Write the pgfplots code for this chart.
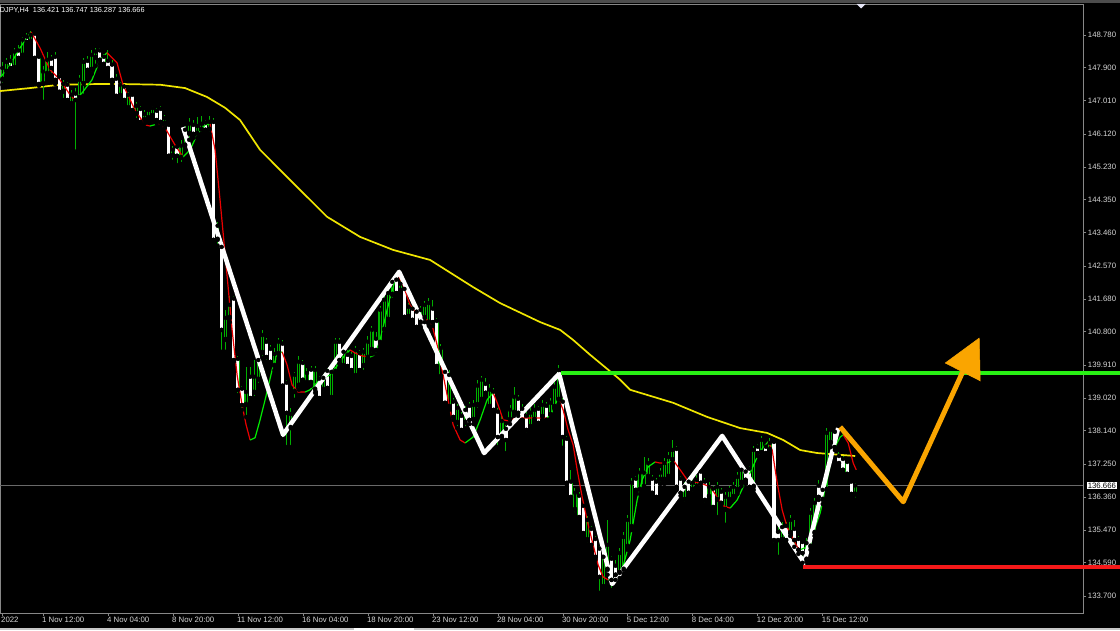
\documentclass[border=0pt]{standalone}
\usepackage{fontspec}
\setmainfont{Liberation Sans}
\usepackage{pgfplots}
\pgfplotsset{compat=1.18}
\usepackage{pgfplotstable}

\definecolor{wick}{RGB}{0,175,0}
\definecolor{ma}{RGB}{240,230,0}
\definecolor{hmagreen}{RGB}{0,235,0}
\definecolor{hmared}{RGB}{235,0,0}
\definecolor{lvlgreen}{RGB}{40,240,20}
\definecolor{lvlred}{RGB}{245,25,25}
\definecolor{arrow}{RGB}{250,165,0}
\definecolor{frame}{RGB}{135,135,135}
\definecolor{txt}{RGB}{215,215,215}
\definecolor{pricegrey}{RGB}{105,105,105}
\newcommand{\lbl}{\fontsize{7.8}{9}\selectfont}

% USDJPY H4 candles: bar index, open, high, low, close
\pgfplotstableread{
i o h l c
6 147.57 148.05 147.44 147.89
7 147.79 148.16 147.68 148.05
8 148.05 148.24 147.79 147.89
9 147.89 148.43 147.84 148.33
10 148.33 148.51 148.05 148.16
11 148.22 148.73 148.16 148.65
12 148.70 148.83 148.48 148.59
13 148.59 148.89 148.54 148.78
14 148.78 148.83 148.11 148.16
15 148.16 148.24 147.41 147.46
16 147.46 147.95 146.98 147.79
17 147.73 148.33 147.63 148.11
18 148.11 148.24 147.70 147.89
19 148.16 148.33 147.46 147.57
20 147.63 147.73 147.14 147.25
21 147.25 147.57 147.03 147.46
22 147.41 147.52 146.92 147.03
23 146.92 147.30 146.84 147.17
24 147.17 147.36 145.64 147.03
25 147.08 147.70 146.98 147.57
26 147.46 148.16 147.14 148.05
27 148.05 148.22 147.73 147.84
28 147.84 148.38 147.73 148.24
29 148.16 148.43 147.95 148.33
30 148.33 148.43 148.00 148.11
31 148.16 148.27 147.89 148.00
32 148.05 148.38 147.84 147.89
33 147.95 148.11 147.46 147.57
34 147.57 147.73 147.08 147.14
35 147.14 147.52 147.03 147.44
36 147.36 147.46 146.92 147.03
37 146.81 147.25 146.71 147.17
38 147.14 147.19 146.65 146.76
39 146.65 146.98 146.49 146.87
40 146.76 146.87 146.39 146.44
41 146.49 146.76 146.39 146.65
42 146.54 146.81 146.44 146.76
43 146.60 146.87 146.49 146.81
44 146.71 146.81 146.39 146.49
45 146.76 146.87 146.33 146.44
46 146.39 146.63 146.28 146.54
47 146.33 146.39 145.47 145.53
48 145.53 145.80 145.37 145.69
49 145.74 145.82 145.28 145.53
50 145.47 145.96 145.31 145.80
51 145.80 146.33 145.69 146.23
52 146.12 146.54 145.96 146.39
53 146.33 146.49 146.01 146.12
54 146.12 146.57 146.01 146.33
55 146.23 146.60 146.12 146.39
56 146.39 146.49 146.12 146.23
57 146.23 146.60 146.12 146.44
58 146.41 146.54 143.19 143.27
59 143.27 143.75 143.11 143.65
60 143.05 143.16 140.26 140.85
61 140.58 141.39 140.26 141.17
62 141.17 141.76 141.06 141.52
63 141.66 141.76 139.99 140.04
64 140.04 140.15 139.10 139.24
65 139.24 139.35 138.70 138.83
66 138.83 139.85 138.51 139.18
67 139.56 139.85 138.92 139.02
68 139.16 140.04 139.02 139.59
69 139.51 140.12 139.37 140.04
70 140.23 140.85 140.10 140.71
71 140.50 140.63 139.99 140.12
72 140.31 140.45 139.88 139.99
73 139.88 140.36 139.77 140.20
74 140.20 140.63 140.10 140.53
75 140.45 140.58 139.24 139.35
76 139.40 139.51 137.70 138.62
77 138.21 138.75 137.70 138.59
78 139.18 139.72 138.97 139.64
79 139.35 140.15 139.24 139.99
80 139.93 140.04 139.40 139.51
81 139.43 139.83 139.35 139.69
82 139.75 139.88 139.35 139.45
83 139.24 139.88 139.16 139.77
84 139.51 139.61 138.92 139.02
85 139.24 139.67 139.13 139.56
86 139.72 139.83 139.18 139.29
87 139.02 139.88 138.92 139.72
88 139.72 140.63 139.61 140.53
89 140.50 140.63 139.93 140.04
90 139.88 140.36 139.77 140.26
91 140.15 140.31 139.77 139.88
92 140.12 140.26 139.67 139.77
93 139.61 140.42 139.51 140.31
94 140.20 140.31 139.67 139.77
95 139.88 140.36 139.72 140.26
96 140.10 140.69 139.99 140.53
97 140.31 140.96 140.20 140.85
98 140.58 140.80 140.20 140.31
99 140.50 141.49 140.42 141.39
100 140.85 141.76 140.74 141.66
101 141.12 141.92 141.01 141.84
102 141.79 142.25 141.66 142.14
103 142.17 142.35 141.76 141.84
104 141.90 142.41 141.82 142.09
105 141.92 142.03 141.12 141.20
106 141.20 141.57 141.12 141.47
107 141.39 141.49 141.01 141.12
108 141.31 141.41 140.85 140.93
109 141.04 141.49 140.93 141.39
110 141.17 141.63 141.06 141.52
111 141.04 141.71 140.96 141.57
112 141.39 141.66 140.96 141.06
113 141.06 141.17 139.77 139.88
114 139.59 140.47 139.51 140.36
115 139.69 139.83 138.81 138.89
116 138.78 139.77 138.70 139.64
117 138.89 139.02 138.43 138.51
118 138.35 138.86 138.21 138.75
119 138.51 138.65 138.05 138.16
120 138.35 138.81 138.21 138.70
121 138.78 138.92 138.32 138.43
122 138.43 138.97 138.32 138.83
123 138.83 139.51 138.70 139.35
124 138.97 139.61 138.86 139.51
125 139.37 139.56 139.08 139.16
126 138.78 139.40 138.70 139.24
127 139.16 139.29 138.59 138.70
128 138.62 138.75 137.70 137.97
129 137.97 138.54 137.89 138.40
130 138.16 138.30 137.54 137.89
131 138.43 138.83 138.32 138.70
132 138.62 139.32 138.54 139.05
133 138.97 139.10 138.54 138.62
134 138.70 138.86 138.32 138.43
135 138.51 138.65 138.05 138.16
136 138.24 138.75 138.16 138.62
137 138.43 138.86 138.32 138.70
138 138.70 138.81 138.27 138.35
139 138.51 138.97 138.43 138.83
140 138.78 138.92 138.32 138.43
141 138.56 139.02 138.48 138.89
142 138.78 139.45 138.70 139.32
143 138.97 139.91 138.86 139.77
144 138.89 139.02 137.68 137.97
145 137.89 137.99 136.65 136.74
146 136.74 137.09 136.28 136.36
147 136.01 136.60 135.90 136.47
148 136.36 136.49 135.74 135.82
149 136.09 136.17 135.31 135.39
150 135.20 135.85 135.09 135.74
151 135.47 135.58 134.99 135.07
152 135.20 135.31 134.67 134.75
153 134.94 135.04 133.78 134.21
154 133.94 134.88 133.86 134.75
155 134.40 135.74 134.27 135.07
156 134.67 134.77 133.86 134.13
157 134.48 134.67 134.13 134.27
158 134.32 134.99 134.18 134.85
159 134.40 135.42 134.29 135.28
160 135.02 135.88 134.94 135.74
161 135.55 136.87 135.47 136.74
162 136.82 136.92 136.44 136.55
163 136.55 137.14 136.44 137.01
164 136.63 137.43 136.55 137.01
165 136.90 137.41 136.82 137.27
166 136.82 136.95 136.36 136.47
167 136.74 136.87 136.28 136.36
168 136.82 137.14 136.71 137.01
169 136.82 137.41 136.71 137.27
170 136.90 137.57 136.82 137.43
171 137.35 137.89 137.25 137.62
172 137.62 137.73 136.55 136.63
173 136.82 136.92 136.39 136.47
174 136.28 136.77 136.17 136.63
175 136.74 136.87 136.39 136.47
176 136.55 136.87 136.44 136.74
177 136.63 136.95 136.55 136.82
178 137.01 137.09 136.63 136.74
179 136.74 136.87 136.17 136.28
180 136.36 136.77 136.28 136.63
181 136.55 136.65 136.01 136.09
182 136.28 136.77 135.82 136.63
183 136.47 136.60 136.12 136.20
184 136.01 136.49 135.61 136.36
185 136.28 136.65 136.17 136.55
186 136.36 136.77 136.28 136.63
187 136.55 137.03 136.44 136.90
188 136.74 137.19 136.65 137.09
189 137.01 137.14 136.71 136.82
190 137.09 137.19 136.55 136.63
191 136.63 137.73 136.55 137.62
192 137.68 137.78 137.46 137.54
193 137.54 137.99 137.46 137.89
194 137.68 137.78 137.46 137.54
195 137.62 137.95 137.54 137.81
196 137.81 137.89 135.09 135.20
197 135.39 135.55 134.75 135.20
198 135.20 135.69 135.09 135.55
199 135.55 135.69 135.09 135.20
200 135.39 135.88 135.31 135.74
201 135.47 135.74 135.02 135.20
202 135.20 135.31 134.83 134.94
203 135.12 135.20 134.59 134.85
204 134.67 135.26 134.61 135.12
205 135.02 136.06 134.94 135.93
206 135.39 136.33 135.31 136.20
207 136.63 136.82 136.28 136.36
208 136.28 136.68 136.17 136.55
209 136.55 138.21 136.44 138.08
210 137.81 138.21 137.70 138.16
211 138.08 138.16 137.62 137.70
212 137.43 137.57 137.19 137.27
213 137.35 137.46 136.98 137.09
214 137.27 137.35 136.92 136.98
215 136.74 136.82 136.39 136.44
216 136.421 136.747 136.287 136.666
}\candles

% long moving average (yellow)
\pgfplotstableread{
i p
5.41 147.27
12.80 147.35
20.19 147.44
30.04 147.46
34.97 147.46
44.82 147.44
50.98 147.35
56.40 147.11
60.83 146.82
64.53 146.49
69.45 145.69
77.58 144.80
85.95 143.89
94.08 143.35
102.21 143.00
111.32 142.73
121.91 142.00
128.56 141.57
138.41 141.06
143.34 140.85
146.54 140.58
150.73 140.18
156.15 139.69
158.12 139.51
160.58 139.24
167.24 139.02
171.17 138.89
179.55 138.51
187.68 138.21
194.33 138.08
198.27 137.89
202.45 137.62
206.64 137.54
216.00 137.46
}\maline

\begin{document}
\begin{tikzpicture}[x=1pt,y=1pt]
\path[use as bounding box] (0,0) rectangle (1120,630);
\fill[black] (0,0) rectangle (1120,630);
\fill[black!70] (0,627) rectangle (1120,630);
\fill[black!22] (0,0) rectangle (1120,2.5);
\fill[white] (354,0) rectangle (414,2.5);

\begin{axis}[
  at={(0pt,17pt)}, anchor=south west,
  scale only axis, width=1083pt, height=609pt,
  xmin=5.41, xmax=272.16, ymin=133.24, ymax=149.61,
  clip=false,
  axis line style={draw=frame, line width=0.8pt},
  tick style={draw=frame, line width=0.6pt},
  tick align=outside, major tick length=3pt,
  xtick pos=left, ytick pos=right, yticklabel pos=right,
  xtick={5.9,16,32,48,64,80,96,112,128,144,160,176,192,208},
  xticklabels={2022, 1 Nov 12:00, 4 Nov 04:00, 8 Nov 20:00, 11 Nov 12:00,
    16 Nov 04:00, 18 Nov 20:00, 23 Nov 12:00, 28 Nov 04:00, 30 Nov 20:00,
    5 Dec 12:00, 8 Dec 04:00, 12 Dec 20:00, 15 Dec 12:00},
  xticklabel style={anchor=north west, text=txt, font=\lbl, inner sep=0pt, xshift=-1pt, yshift=-1pt},
  ytick={133.70,134.59,135.47,136.36,137.25,138.14,139.02,139.91,140.80,141.68,142.57,143.46,144.35,145.23,146.12,147.01,147.90,148.78},
  yticklabels={133.700,134.590,135.470,136.360,137.250,138.140,139.020,139.910,140.800,141.680,142.570,143.460,144.350,145.230,146.120,147.010,147.900,148.780},
  yticklabel style={anchor=west, text=txt, font=\lbl, inner sep=0pt, xshift=1.5pt},
]

% current bid line
\addplot[pricegrey, line width=0.7pt] coordinates {(5.41,136.666) (272.16,136.666)};

% moving average
\addplot[ma, line width=1.7pt] table[x=i, y=p] {\maline};

% wicks
\addplot[only marks, mark=none,
  error bars/.cd, y dir=plus, y explicit, error mark=none,
  error bar style={draw=wick, line width=1pt}]
  table[x=i, y=l, y error plus expr={\thisrow{h}-\thisrow{l}}] {\candles};
% body outline
\addplot[only marks, mark=none,
  error bars/.cd, y dir=plus, y explicit, error mark=none,
  error bar style={draw=wick, line width=3.2pt}]
  table[x=i, y expr={min(\thisrow{o},\thisrow{c})}, y error plus expr={max(0.03,abs(\thisrow{c}-\thisrow{o}))}] {\candles};
% bear bodies white
\addplot[only marks, mark=none,
  error bars/.cd, y dir=plus, y explicit, error mark=none,
  error bar style={draw=white, line width=3.1pt}]
  table[x=i, y=c, y error plus expr={max(0,\thisrow{o}-\thisrow{c})}] {\candles};
% bull bodies hollow
\addplot[only marks, mark=none,
  error bars/.cd, y dir=plus, y explicit, error mark=none,
  error bar style={draw=black, line width=1.1pt}]
  table[x=i, y expr={\thisrow{o}+0.03}, y error plus expr={max(0,\thisrow{c}-\thisrow{o}-0.06)}] {\candles};

% fast smoothed line, green when rising, red when falling
\addplot[hmagreen, line width=1.2pt] coordinates {(5.41,147.62) (7.87,147.97) (10.33,148.43) (13.04,148.86)};
\addplot[hmared, line width=1.2pt] coordinates {(13.04,148.86) (15.26,148.43) (17.73,147.84) (20.19,147.57) (22.65,147.17) (23.88,147.03)};
\addplot[hmagreen, line width=1.2pt] coordinates {(23.88,147.03) (25.61,147.22) (28.06,147.57) (30.04,148.11) (31.76,148.30)};
\addplot[hmared, line width=1.2pt] coordinates {(31.76,148.30) (34.23,148.03) (35.70,147.44) (38.66,146.76) (41.12,146.36) (42.36,146.33)};
\addplot[hmagreen, line width=1.2pt] coordinates {(42.36,146.33) (44.33,146.39)};
\addplot[hmared, line width=1.2pt] coordinates {(44.33,146.39) (46.05,146.28) (48.51,145.82) (50.48,145.50)};
\addplot[hmagreen, line width=1.2pt] coordinates {(50.48,145.50) (52.21,145.69) (53.93,146.09) (55.90,146.36) (57.14,146.39)};
\addplot[hmared, line width=1.2pt] coordinates {(57.14,146.39) (58.37,145.69) (59.60,144.34) (61.08,142.60) (62.56,140.85) (63.79,139.64) (65.02,138.83) (66.01,138.30) (67.00,137.89)};
\addplot[hmagreen, line width=1.2pt] coordinates {(67.00,137.89) (68.22,137.95) (69.45,138.43) (70.69,138.97) (72.41,139.77) (73.64,140.18) (74.87,140.26)};
\addplot[hmared, line width=1.2pt] coordinates {(74.87,140.26) (76.10,139.91) (77.33,139.37) (78.81,139.18) (80.54,139.18)};
\addplot[hmagreen, line width=1.2pt] coordinates {(80.54,139.18) (81.76,139.24) (84.23,139.51) (86.69,139.64) (89.15,139.99) (90.38,140.18) (91.62,140.31)};
\addplot[hmared, line width=1.2pt] coordinates {(91.62,140.31) (92.85,140.23) (94.57,140.15) (96.54,140.12)};
\addplot[hmagreen, line width=1.2pt] coordinates {(96.54,140.12) (97.77,140.18) (99.00,140.58) (100.73,141.39) (102.70,142.19) (103.44,142.33)};
\addplot[hmared, line width=1.2pt] coordinates {(103.44,142.33) (104.67,142.06) (106.39,141.52) (108.36,141.25) (110.09,141.17) (111.81,140.98) (113.04,140.45) (114.28,139.77) (115.75,138.97) (116.99,138.30) (118.71,137.89) (119.94,137.81)};
\addplot[hmagreen, line width=1.2pt] coordinates {(119.94,137.81) (121.91,137.97) (123.64,138.43) (125.36,138.97) (126.84,139.16)};
\addplot[hmared, line width=1.2pt] coordinates {(126.84,139.16) (128.07,138.83) (129.30,138.43) (131.03,138.40) (132.26,138.48) (134.72,138.48) (137.18,138.48) (140.14,138.48)};
\addplot[hmagreen, line width=1.2pt] coordinates {(140.14,138.48) (140.88,138.56) (141.86,138.75) (142.85,139.02)};
\addplot[hmared, line width=1.2pt] coordinates {(142.85,139.02) (144.08,138.70) (145.31,138.16) (146.54,137.76) (147.53,137.09) (148.76,136.36) (150.24,135.61) (151.47,135.07) (152.70,134.53) (153.93,134.21) (155.16,134.13)};
\addplot[hmagreen, line width=1.2pt] coordinates {(155.16,134.13) (156.15,134.13) (157.38,134.21) (158.61,134.40) (160.58,135.20) (162.31,136.28) (163.54,136.82) (165.02,137.17) (166.74,137.30)};
\addplot[hmared, line width=1.2pt] coordinates {(166.74,137.30) (167.97,137.27) (169.70,137.27)};
\addplot[hmagreen, line width=1.2pt] coordinates {(169.70,137.27) (171.17,137.35)};
\addplot[hmared, line width=1.2pt] coordinates {(171.17,137.35) (172.90,137.09) (174.62,136.82) (176.10,136.76) (177.82,136.74) (180.29,136.63) (182.01,136.36) (183.49,136.12) (185.21,136.06)};
\addplot[hmagreen, line width=1.2pt] coordinates {(185.21,136.06) (186.94,136.28) (188.41,136.63) (190.14,137.01) (191.86,137.43) (193.34,137.70) (194.57,137.84)};
\addplot[hmared, line width=1.2pt] coordinates {(194.57,137.84) (195.56,137.62) (196.79,136.74) (198.02,136.01) (199.25,135.55) (200.48,135.28) (201.71,135.02) (202.45,134.94)};
\addplot[hmagreen, line width=1.2pt] coordinates {(202.45,134.94) (204.18,135.02) (205.66,135.39) (207.38,135.93) (209.10,136.82) (210.58,137.62) (212.31,137.97) (213.04,138.03)};
\addplot[hmared, line width=1.2pt] coordinates {(213.04,138.03) (214.27,137.81) (215.51,137.27) (216.25,137.09)};

% zigzag
\addplot[white, line width=4.5pt, line join=round] coordinates {
  (50.48,146.30) (75.11,138.03) (103.69,142.41) (124.62,137.54) (143.09,139.67)
  (156.15,134.02) (183.24,138.00) (203.43,134.59) (211.81,138.21)};

% support / resistance
\addplot[lvlgreen, line width=4pt] coordinates {(143.6,139.69) (281.3,139.69)};
\addplot[lvlred, line width=4pt] coordinates {(203.2,134.48) (281.3,134.48)};

% projected path
\addplot[arrow, line width=5pt, line join=round] coordinates {(212.31,138.24) (227.83,136.23) (242.47,139.72)};
\addplot[arrow, fill=arrow, line width=0.5pt] coordinates {(246.54,140.63) (238.17,139.96) (246.79,139.48)} -- cycle;

\node[fill=white, text=black, font=\lbl, inner sep=0.8pt, anchor=west] at (axis cs:272.16,136.666) [xshift=3.5pt] {136.666};
\end{axis}

\node[anchor=base west, text=white, font=\fontsize{7.3}{9}\selectfont, inner sep=0pt] at (-10.5,617.5) {USDJPY,H4\ \ 136.421 136.747 136.287 136.666};
\fill[black!35!blue!10!white] (856.5,626) -- (865.5,626) -- (861,621.5) -- cycle;
\end{tikzpicture}
\end{document}
